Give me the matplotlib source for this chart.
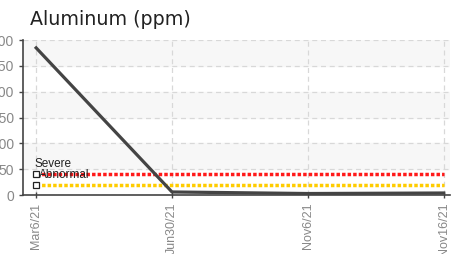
import matplotlib.pyplot as plt
import numpy as np

plt.rcParams['font.family'] = ['Liberation Sans Narrow', 'Liberation Sans', 'DejaVu Sans']

# Data
dates = ['Mar6/21', 'Jun30/21', 'Nov6/21', 'Nov16/21']
values = [285, 6, 3, 4]
severe = 40
abnormal = 20
y_ticks = [0, 50, 100, 150, 200, 250, 300]

fig = plt.figure(figsize=(4.53, 2.54), dpi=100)
ax = fig.add_axes([0.051, 0.232, 0.942, 0.610])

x = np.arange(len(dates))

# Alternating bands
for lo in (50, 150, 250):
    ax.axhspan(lo, lo + 50, color='#f7f7f7', zorder=0)

ax.grid(True, linestyle=(0, (4, 3)), color='#d8d8d8', linewidth=0.9, zorder=1)

# Limit lines
ax.plot([x[0], x[-1]], [severe, severe], color='#ff1a1a', linewidth=2.5,
        linestyle=(0, (1, 0.6)), zorder=2)
ax.plot([x[0], x[-1]], [abnormal, abnormal], color='#ffcc00', linewidth=2.5,
        linestyle=(0, (1, 0.6)), zorder=2)
ax.plot([x[0], x[0]], [severe, abnormal], linestyle='none', marker='s', markersize=4,
        markerfacecolor='white', markeredgecolor='#222222', markeredgewidth=0.9, zorder=4)
ax.annotate('Severe', (x[0], severe), xytext=(-1, 3), textcoords='offset points',
            fontsize=8.5, color='#222222', ha='left', va='bottom', zorder=5)
ax.annotate('Abnormal', (x[0], abnormal), xytext=(2, 3), textcoords='offset points',
            fontsize=8.5, color='#222222', ha='left', va='bottom', zorder=5)

# Main series
ax.plot(x, values, color='#444444', linewidth=2.3, zorder=3)

ax.set_xlim(-0.096, 3.045)
ax.set_ylim(0, 300)
ax.set_yticks(y_ticks)
ax.set_xticks(x)
ax.set_xticklabels(dates, rotation=90)
ax.tick_params(axis='both', colors='#444444', labelcolor='#888888', labelsize=10,
               length=3, width=1)
ax.tick_params(axis='x', direction='inout', length=5, labelsize=9, pad=3)

for s in ('top', 'right'):
    ax.spines[s].set_visible(False)
for s in ('left', 'bottom'):
    ax.spines[s].set_color('#444444')
    ax.spines[s].set_linewidth(1.2)

fig.text(0.066, 0.925, 'Aluminum (ppm)', fontsize=13.7, family='DejaVu Sans',
         color='#222222', ha='left', va='center')

fig.savefig('out.png', dpi=100)
